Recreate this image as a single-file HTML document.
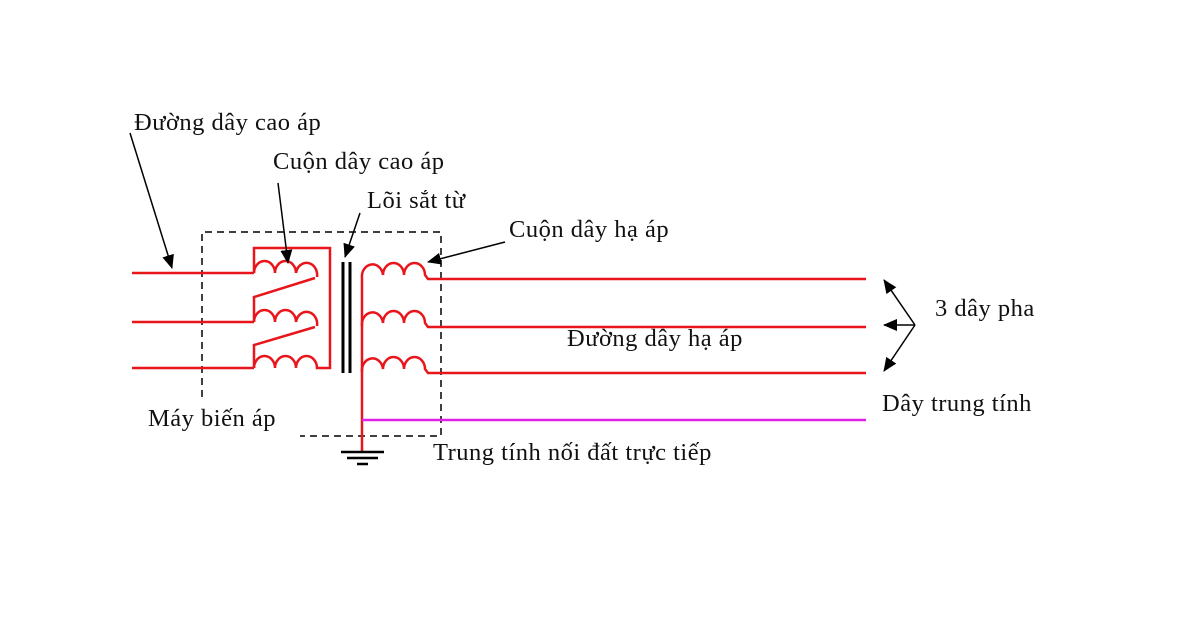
<!DOCTYPE html>
<html><head><meta charset="utf-8"><style>
html,body{margin:0;padding:0;background:#fff}
svg text{font-family:"Liberation Serif",serif;font-size:24.5px;letter-spacing:0.5px;fill:#111}
</style></head><body>
<svg width="1200" height="628" viewBox="0 0 1200 628" xmlns="http://www.w3.org/2000/svg">
<defs>
<marker id="b" markerWidth="14" markerHeight="12" refX="13" refY="6" orient="auto" markerUnits="userSpaceOnUse"><path d="M0,0 L14,6 L0,12 Z" fill="#000"/></marker></defs>
<g stroke="#000" stroke-width="1.5" stroke-dasharray="7,5" fill="none">
<path d="M202,397 V232 H441 V436 H300"/>
</g>
<g stroke="#e8151b" stroke-width="2.5" fill="none">
<path d="M132,273 H254 M132,322 H254 M132,368 H254"/>
<path d="M254,273 a10.5,12 0 0 1 21,0 a10.5,12 0 0 1 21,0 a10.5,12 0 0 1 21,4"/>
<path d="M254,322 a10.5,12 0 0 1 21,0 a10.5,12 0 0 1 21,0 a10.5,12 0 0 1 21,4"/>
<path d="M254,368 a10.5,12 0 0 1 21,0 a10.5,12 0 0 1 21,0 a10.5,12 0 0 1 21,0 H330 V248 H254 V273"/>
<path d="M315,278 L254,297 V322 M315,327 L254,345 V368"/>
<path d="M362,452 V278 a10.5,12 0 0 1 21,-3 a10.5,12 0 0 1 21,0 a10.5,12 0 0 1 21,0 l3,4 H866"/>
<path d="M362,326 a10.5,12 0 0 1 21,-3 a10.5,12 0 0 1 21,0 a10.5,12 0 0 1 21,0 l3,4 H866"/>
<path d="M362,372 a10.5,12 0 0 1 21,-3 a10.5,12 0 0 1 21,0 a10.5,12 0 0 1 21,0 l3,4 H866"/>
</g>
<path d="M362,420 H866" stroke="#e020e8" stroke-width="2.5"/>
<path d="M343,262 V373 M350,262 V373" stroke="#000" stroke-width="3"/>
<path d="M341,452 H384 M347,458 H378 M357,464 H368" stroke="#000" stroke-width="2.5"/>
<g stroke="#000" stroke-width="1.5" fill="none">
<line x1="130" y1="133" x2="172" y2="268" marker-end="url(#b)"/>
<line x1="278" y1="183" x2="288" y2="263" marker-end="url(#b)"/>
<line x1="360" y1="213" x2="345" y2="257" marker-end="url(#b)"/>
<line x1="505" y1="242" x2="428" y2="262" marker-end="url(#b)"/>
<line x1="915" y1="325" x2="884" y2="280" marker-end="url(#b)"/>
<line x1="915" y1="325" x2="884" y2="325" marker-end="url(#b)"/>
<line x1="915" y1="325" x2="884" y2="371" marker-end="url(#b)"/>
</g>
<text x="134" y="130">Đường dây cao áp</text>
<text x="273" y="169">Cuộn dây cao áp</text>
<text x="367" y="208">Lõi sắt từ</text>
<text x="509" y="237">Cuộn dây hạ áp</text>
<text x="935" y="316">3 dây pha</text>
<text x="567" y="346">Đường dây hạ áp</text>
<text x="882" y="411">Dây trung tính</text>
<text x="148" y="426">Máy biến áp</text>
<text x="433" y="460">Trung tính nối đất trực tiếp</text>
</svg>
</body></html>
